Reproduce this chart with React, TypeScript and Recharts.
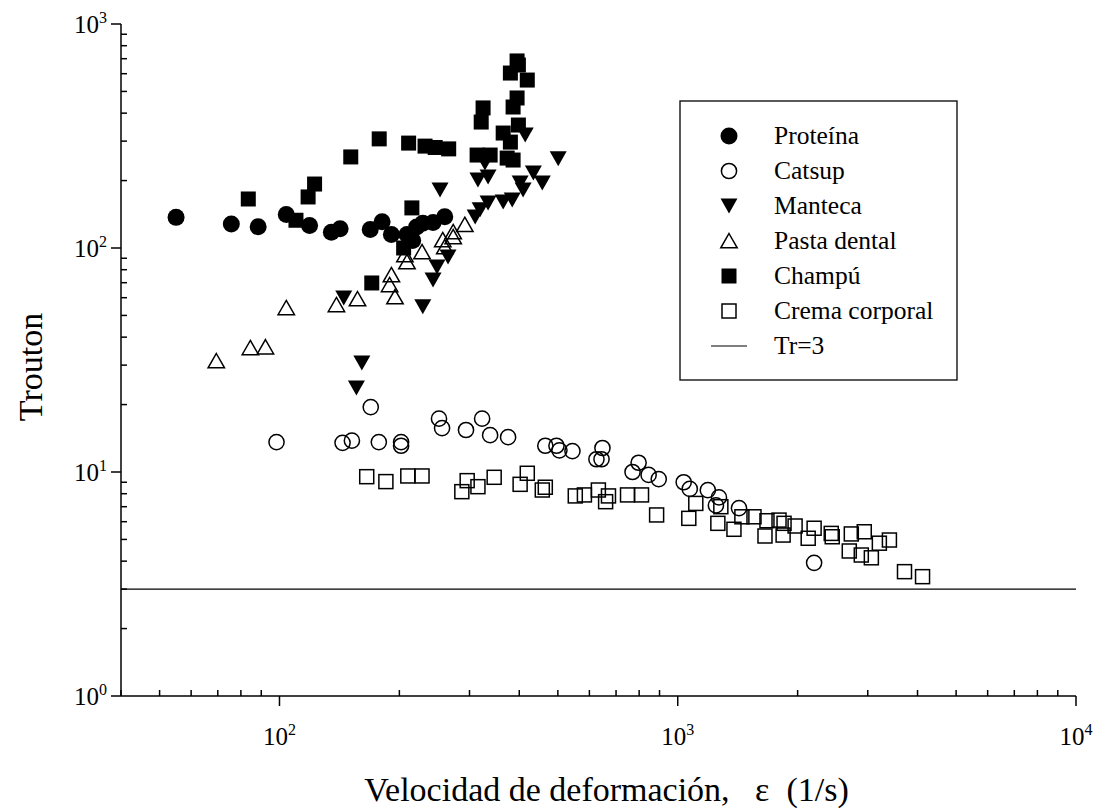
import React from 'react';
import { ScatterChart, Scatter, XAxis, YAxis, ReferenceLine, Legend } from 'recharts';

const FONT = '"Liberation Serif", "Times New Roman", Times, serif';

// [strain rate (1/s), Trouton ratio]
const proteina: number[][] = [
  [55, 137], [75.7, 128], [88.4, 124.5], [104, 141], [119, 126], [135, 117.5], [142, 122],
  [169, 121], [181, 131], [191, 115], [209, 115], [216, 108], [221, 124], [229, 129], [243, 130], [260, 138],
];
const catsup: number[][] = [
  [98.3, 13.6], [144, 13.5], [152, 13.8], [169.5, 19.5], [177.6, 13.6], [202, 13.6], [202, 13.1],
  [251.5, 17.3], [256, 15.7], [294, 15.4], [322.7, 17.3], [338, 14.6], [375, 14.3], [465, 13.1],
  [496, 13.1], [504.5, 12.5], [544, 12.4], [625, 11.4], [643.6, 11.4], [647, 12.8], [770, 10.0],
  [797.5, 11.0], [845, 9.7], [896, 9.3], [1035, 9.0], [1072, 8.4], [1190, 8.3], [1269, 7.7],
  [1247, 7.1], [1425, 6.9], [2200, 3.93],
];
const manteca: number[][] = [
  [145, 59.8], [156, 23.7], [161, 30.7], [229, 54.6], [243, 72], [248.6, 82.2], [253, 181.5],
  [265, 91.2], [310, 137.5], [315, 201], [319, 148], [328, 239.6], [334, 207.5], [334, 159],
  [364.5, 160.5], [384, 163.8], [402, 195], [409, 181.5], [414, 319.5], [434, 216], [457, 195], [501, 250],
];
const pastaDental: number[][] = [
  [69.4, 31.3], [84.5, 35.8], [92.2, 36.1], [104, 54], [139, 55.7], [157, 59.2], [189, 68.4],
  [191, 75.8], [195, 60.4], [206.5, 93], [209, 86.6], [228, 96], [257, 108.6], [260, 101],
  [273, 112], [273, 117.9], [292, 127],
];
const champu: number[][] = [
  [83.5, 165.5], [110, 133], [118, 169], [122.5, 193], [151, 255], [170.5, 69.8], [178, 307],
  [205, 100], [211, 294], [215, 151], [232, 285], [246, 281], [266, 277], [313.5, 260], [321, 365],
  [324.5, 422], [338, 260], [364.5, 326], [373, 252], [380, 297], [380, 604], [386, 247], [386, 426],
  [395, 467.5], [398, 656], [398, 354], [419, 562], [395, 684],
];
const cremaCorporal: number[][] = [
  [165.6, 9.53], [185, 9.06], [210, 9.6], [228, 9.6], [287, 8.17], [296, 9.15], [315, 8.6],
  [346, 9.47], [402, 8.81], [419, 9.87], [457, 8.31], [465, 8.55], [553, 7.82], [583, 7.9],
  [632, 8.31], [659, 7.37], [670, 7.82], [748, 7.9], [811, 7.9], [885, 6.43], [1066, 6.21],
  [1110, 7.24], [1261, 5.9], [1283, 7.0], [1384, 5.55], [1449, 6.31], [1554, 6.31], [1656, 5.18],
  [1675, 6.06], [1796, 6.1], [1839, 5.23], [1849, 5.9], [1971, 5.74], [2126, 5.06], [2200, 5.61],
  [2429, 5.32], [2443, 5.14], [2696, 4.44], [2728, 5.29], [2890, 4.26], [2940, 5.41], [3063, 4.14],
  [3208, 4.81], [3400, 4.97], [3710, 3.59], [4118, 3.41],
];
const troutonLimit = 3;

const xTicks = [40, 50, 60, 70, 80, 90, 100, 200, 300, 400, 500, 600, 700, 800, 900,
  1000, 2000, 3000, 4000, 5000, 6000, 7000, 8000, 9000, 10000];
const yTicks = [1, 2, 3, 4, 5, 6, 7, 8, 9, 10, 20, 30, 40, 50, 60, 70, 80, 90,
  100, 200, 300, 400, 500, 600, 700, 800, 900, 1000];

const xLabel = 'Velocidad de deformación,\u00a0\u00a0\u00a0ε\u00a0\u00a0(1/s)';
const yLabel = 'Trouton';

const toPts = (a: number[][]) => a.map(([x, y]) => ({ x, y }));

const isMajor = (v: number) => Math.abs(Math.log10(v) - Math.round(Math.log10(v))) < 1e-9;
const expOf = (v: number) => Math.round(Math.log10(v));
const SW = 1.5;
const TICK_FS = 25;
const SUP_FS = 16;
const TITLE_FS = 34;

const BottomTick = (p: any) => {
  const { x, y, payload } = p;
  const v = payload.value;
  if (isMajor(v)) {
    return (
      <g>
        <line x1={x} x2={x} y1={y} y2={y + 10} stroke="#000" strokeWidth={SW} />
        <text x={x} y={y + 49} textAnchor="middle" fontFamily={FONT} fontSize={TICK_FS} fill="#000">
          10<tspan dy={-10} fontSize={SUP_FS}>{expOf(v)}</tspan>
        </text>
      </g>
    );
  }
  return <line x1={x} x2={x} y1={y} y2={y - 6} stroke="#000" strokeWidth={SW} />;
};
const TopTick = (p: any) => {
  const { x, y, payload } = p;
  const len = isMajor(payload.value) ? 10 : 6;
  return <line x1={x} x2={x} y1={y} y2={y + len} stroke="#000" strokeWidth={SW} />;
};
const LeftTick = (p: any) => {
  const { x, y, payload } = p;
  const v = payload.value;
  if (isMajor(v)) {
    return (
      <g>
        <line x1={x - 10} x2={x} y1={y} y2={y} stroke="#000" strokeWidth={SW} />
        <text x={x - 14} y={y + 8.5} textAnchor="end" fontFamily={FONT} fontSize={TICK_FS} fill="#000">
          10<tspan dy={-10} fontSize={SUP_FS}>{expOf(v)}</tspan>
        </text>
      </g>
    );
  }
  return <line x1={x} x2={x + 6} y1={y} y2={y} stroke="#000" strokeWidth={SW} />;
};
const RightTick = (p: any) => {
  const { x, y, payload } = p;
  const len = isMajor(payload.value) ? 10 : 6;
  return <line x1={x - len} x2={x} y1={y} y2={y} stroke="#000" strokeWidth={SW} />;
};

type MK = 'fc' | 'oc' | 'ft' | 'ot' | 'fs' | 'os';
const Marker = ({ cx, cy, kind }: { cx: number; cy: number; kind: MK }) => {
  if (cx == null || cy == null) return null;
  switch (kind) {
    case 'fc':
      return <circle cx={cx} cy={cy} r={8.5} fill="#000" />;
    case 'oc':
      return <circle cx={cx} cy={cy} r={7.6} fill="none" stroke="#000" strokeWidth={SW} />;
    case 'ft':
      return <polygon points={`${cx - 8.5},${cy - 7.5} ${cx + 8.5},${cy - 7.5} ${cx},${cy + 7.5}`} fill="#000" />;
    case 'ot':
      return (
        <polygon points={`${cx},${cy - 7.5} ${cx + 8.2},${cy + 6.8} ${cx - 8.2},${cy + 6.8}`}
          fill="none" stroke="#000" strokeWidth={SW} strokeLinejoin="miter" />
      );
    case 'fs':
      return <rect x={cx - 7.5} y={cy - 7.5} width={15} height={15} fill="#000" />;
    case 'os':
      return <rect x={cx - 7} y={cy - 7} width={14} height={14} fill="none" stroke="#000" strokeWidth={SW} />;
  }
  return null;
};

const series: { name: string; data: number[][]; kind: MK }[] = [
  { name: 'Proteína', data: proteina, kind: 'fc' },
  { name: 'Catsup', data: catsup, kind: 'oc' },
  { name: 'Manteca', data: manteca, kind: 'ft' },
  { name: 'Pasta dental', data: pastaDental, kind: 'ot' },
  { name: 'Champú', data: champu, kind: 'fs' },
  { name: 'Crema corporal', data: cremaCorporal, kind: 'os' },
];

const LegendBox = () => (
  <svg width={280} height={282} style={{ display: 'block' }}>
    <rect x={1} y={1} width={277} height={279} fill="#fff" stroke="#000" strokeWidth={1.3} />
    {series.map((s, i) => (
      <g key={s.name}>
        <Marker cx={50} cy={36 + i * 35} kind={s.kind} />
        <text x={95} y={44 + i * 35} fontFamily={FONT} fontSize={25.5} fill="#000">{s.name}</text>
      </g>
    ))}
    <line x1={32} x2={68} y1={36 + 6 * 35} y2={36 + 6 * 35} stroke="#000" strokeWidth={1.2} />
    <text x={95} y={44 + 6 * 35} fontFamily={FONT} fontSize={25.5} fill="#000">Tr=3</text>
  </svg>
);

export default function App() {
  return (
    <div style={{ position: 'absolute', left: 0, top: 0, width: 1100, height: 810, background: '#fff' }}>
      <ScatterChart width={1100} height={810} margin={{ top: 24, right: 24, bottom: 0, left: 0 }}>
        <XAxis
          xAxisId={0} dataKey="x" type="number" scale="log" domain={[40, 10000]} allowDataOverflow
          ticks={xTicks} interval={0} tickSize={0} tickMargin={0} tick={<BottomTick />}
          axisLine={{ stroke: '#000', strokeWidth: SW }} tickLine={false} height={114}
          label={{
            content: (props: any) => {
              const vb = props.viewBox;
              return (
                <text x={vb.x + vb.width / 2 + 8} y={vb.y + 105} textAnchor="middle" fontFamily={FONT} fontSize={TITLE_FS} fill="#000">
                  {xLabel}
                </text>
              );
            },
          }}
        />
        <XAxis
          xAxisId="top" orientation="top" type="number" scale="log" domain={[40, 10000]} allowDataOverflow
          ticks={xTicks} interval={0} tickSize={0} tickMargin={0} tick={<TopTick />}
          axisLine={{ stroke: '#000', strokeWidth: SW }} tickLine={false} height={0}
        />
        <YAxis
          yAxisId={0} dataKey="y" type="number" scale="log" domain={[1, 1000]} allowDataOverflow
          ticks={yTicks} interval={0} tickSize={0} tickMargin={0} tick={<LeftTick />}
          axisLine={{ stroke: '#000', strokeWidth: SW }} tickLine={false} width={121}
          label={{
            content: (props: any) => {
              const vb = props.viewBox;
              const cy = vb.y + vb.height / 2 + 7;
              return (
                <text x={30} y={cy} transform={`rotate(-90, 30, ${cy})`} textAnchor="middle"
                  dominantBaseline="central" fontFamily={FONT} fontSize={TITLE_FS} fill="#000">
                  {yLabel}
                </text>
              );
            },
          }}
        />
        <YAxis
          yAxisId="right" orientation="right" type="number" scale="log" domain={[1, 1000]} allowDataOverflow
          ticks={yTicks} interval={0} tickSize={0} tickMargin={0} tick={<RightTick />}
          axisLine={{ stroke: '#000', strokeWidth: SW }} tickLine={false} width={0}
        />
        <ReferenceLine y={troutonLimit} stroke="#000" strokeWidth={1.2} />
        {series.map((s) => (
          <Scatter
            key={s.name}
            name={s.name}
            data={toPts(s.data)}
            isAnimationActive={false}
            shape={(p: any) => <Marker cx={p.cx} cy={p.cy} kind={s.kind} />}
          />
        ))}
        <Legend
          layout="horizontal" verticalAlign="middle" align="center"
          wrapperStyle={{ position: 'absolute', left: 679, top: 100, width: 280, height: 282 }}
          content={() => <LegendBox />}
        />
      </ScatterChart>
    </div>
  );
}
